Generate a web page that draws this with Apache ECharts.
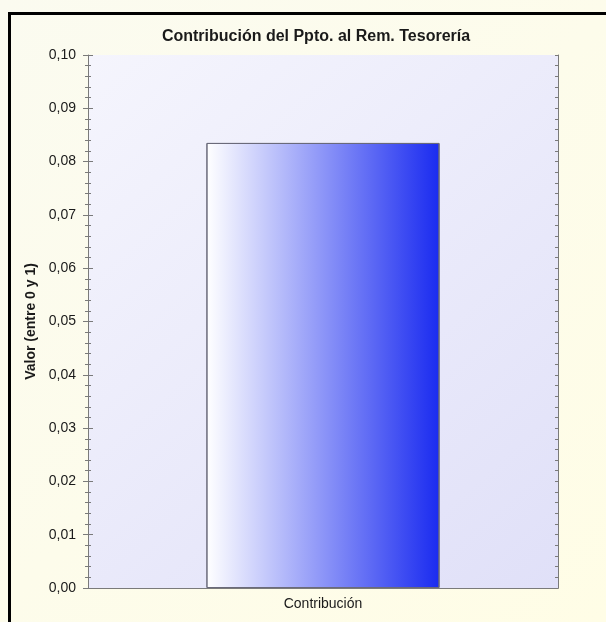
<!DOCTYPE html>
<html>
<head>
<meta charset="utf-8">
<script src="https://cdn.jsdelivr.net/npm/echarts@6/dist/echarts.min.js"></script>
<style>
html, body { margin: 0; padding: 0; }
#chart { width: 606px; height: 622px; }
</style>
</head>
<body>
<div id="chart"></div>
<script>
const categories = ['Contribución'];
const values = [0.0835];
const yTicks = { min: 0, max: 0.1, interval: 0.01 };

const myChart = echarts.init(document.getElementById('chart'));
const fmt = v => v.toFixed(2).replace('.', ',');
const axisGray = '#7a7a7a';

const option = {
    backgroundColor: new echarts.graphic.LinearGradient(0, 0, 1, 1, [
        { offset: 0, color: '#fbfbf0' },
        { offset: 1, color: '#fffde6' }
    ]),
    title: {
        text: 'Contribución del Ppto. al Rem. Tesorería',
        left: 311,
        textAlign: 'center',
        top: 24,
        textStyle: { fontFamily: 'Liberation Sans', fontSize: 16, fontWeight: 'bold', color: '#1a1a1a' }
    },
    graphic: [{
        type: 'rect',
        shape: { x: 9.5, y: 13.5, width: 800, height: 800 },
        style: { fill: 'none', stroke: '#000', lineWidth: 3 },
        silent: true
    }],
    grid: {
        left: 88, top: 55, right: 48, bottom: 34,
        show: true,
        borderWidth: 0,
        backgroundColor: new echarts.graphic.LinearGradient(0, 0, 1, 1, [
            { offset: 0, color: '#f5f5fd' },
            { offset: 1, color: '#e0e0f8' }
        ])
    },
    xAxis: [{
        type: 'category',
        data: categories,
        axisLine: { lineStyle: { color: axisGray } },
        axisTick: { alignWithLabel: true, inside: true, length: 6, lineStyle: { color: axisGray } },
        axisLabel: { margin: 9, color: '#1a1a1a', fontFamily: 'Liberation Sans', fontSize: 14 }
    }, {
        type: 'category',
        position: 'top',
        data: categories,
        axisLine: { lineStyle: { color: axisGray } },
        axisTick: { alignWithLabel: true, inside: true, length: 4, lineStyle: { color: axisGray } },
        axisLabel: { show: false }
    }],
    yAxis: [{
        type: 'value',
        min: yTicks.min, max: yTicks.max, interval: yTicks.interval,
        name: 'Valor (entre 0 y 1)',
        nameLocation: 'middle',
        nameGap: 50,
        nameTextStyle: { fontFamily: 'Liberation Sans', fontSize: 14, fontWeight: 'bold', color: '#1a1a1a' },
        axisLine: { show: true, lineStyle: { color: axisGray } },
        axisTick: { show: true, length: 5, lineStyle: { color: axisGray } },
        minorTick: { show: true, splitNumber: 5, length: 3, lineStyle: { color: axisGray } },
        splitLine: { show: false },
        axisLabel: { margin: 12, formatter: fmt, color: '#1a1a1a', fontFamily: 'Liberation Sans', fontSize: 14 }
    }, {
        type: 'value',
        position: 'left',
        min: yTicks.min, max: yTicks.max, interval: yTicks.interval,
        axisLine: { show: false },
        axisTick: { show: true, inside: true, length: 5, lineStyle: { color: axisGray } },
        minorTick: { show: true, splitNumber: 5, length: 3, lineStyle: { color: axisGray } },
        splitLine: { show: false },
        axisLabel: { show: false }
    }, {
        type: 'value',
        position: 'right',
        min: yTicks.min, max: yTicks.max, interval: yTicks.interval,
        axisLine: { show: true, lineStyle: { color: axisGray } },
        axisTick: { show: true, inside: true, length: 3, lineStyle: { color: axisGray } },
        minorTick: { show: true, splitNumber: 5, length: 3, lineStyle: { color: axisGray } },
        splitLine: { show: false },
        axisLabel: { show: false }
    }],
    series: [{
        type: 'bar',
        data: values,
        barWidth: '49.6%',
        itemStyle: {
            color: new echarts.graphic.LinearGradient(0, 0, 1, 0, [
                { offset: 0, color: '#ffffff' },
                { offset: 1, color: '#1a2bf0' }
            ]),
            borderColor: '#6a6a7a',
            borderWidth: 1
        }
    }]
};

myChart.setOption(option);
</script>
</body>
</html>
